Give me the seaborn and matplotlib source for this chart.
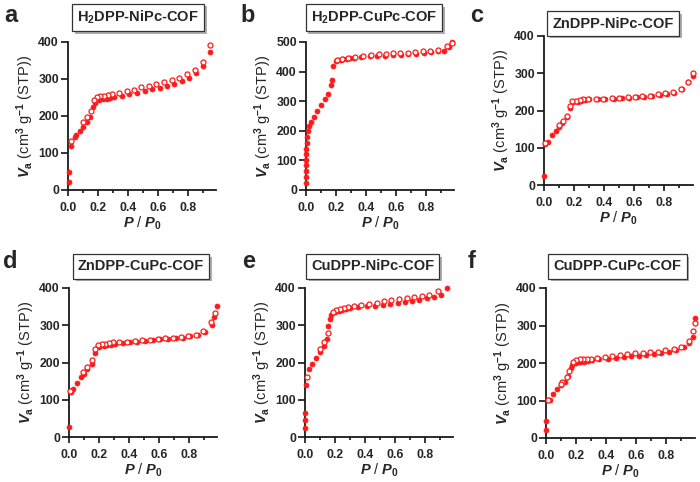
import matplotlib
matplotlib.use("Agg")
import numpy as np
import matplotlib.pyplot as plt
import matplotlib.patheffects as pe
from matplotlib.ticker import MultipleLocator, FormatStrFormatter
import seaborn as sns

# a: H2DPP-NiPc-COF  (adsorption = filled, desorption = open)
a_ads_p = [0.004, 0.004, 0.018, 0.044, 0.056, 0.078, 0.10, 0.129, 0.149, 0.169, 0.178, 0.207, 0.233,
           0.26, 0.282, 0.311, 0.358, 0.411, 0.46, 0.513, 0.562, 0.613, 0.662, 0.711, 0.76, 0.811,
           0.856, 0.90, 0.947]
a_ads_v = [22, 49, 119, 144, 148, 160, 171, 183, 198, 225, 234, 243, 245, 247, 249, 251, 254, 259,
           263, 268, 272, 276, 281, 287, 294, 304, 316, 336, 372]
a_des_p = [0.951, 0.90, 0.851, 0.796, 0.744, 0.693, 0.642, 0.589, 0.542, 0.491, 0.444, 0.393, 0.34,
           0.291, 0.269, 0.24, 0.216, 0.193, 0.176, 0.151, 0.129, 0.10, 0.02]
a_des_v = [393, 346, 325, 313, 303, 296, 291, 287, 282, 279, 271, 268, 263, 259, 257, 255, 253, 251,
           243, 214, 198, 184, 132]

# b: H2DPP-CuPc-COF
b_ads_p = [0.0, 0.0, 0.0, 0.0, 0.0, 0.002, 0.002, 0.004, 0.006, 0.013, 0.022, 0.035, 0.051, 0.073,
           0.10, 0.128, 0.15, 0.168, 0.172, 0.183, 0.20, 0.216, 0.234, 0.25, 0.274, 0.296, 0.318,
           0.366, 0.426, 0.476, 0.53, 0.583, 0.636, 0.684, 0.735, 0.786, 0.834, 0.883, 0.923,
           0.956, 0.978]
b_ads_v = [25, 45, 65, 86, 101, 121, 140, 159, 180, 200, 216, 230, 245, 266, 287, 306, 326, 356,
           373, 420, 435, 438, 440, 442, 444, 445, 447, 449, 452, 453, 454, 455, 457, 458, 461,
           463, 465, 468, 470, 483, 500]
b_des_p = [0.976, 0.945, 0.883, 0.83, 0.78, 0.73, 0.68, 0.63, 0.58, 0.536, 0.485, 0.437, 0.381,
           0.326, 0.282, 0.243, 0.205]
b_des_v = [497, 485, 474, 471, 469, 466, 464, 463, 462, 461, 458, 456, 452, 450, 447, 444, 438]

# c: ZnDPP-NiPc-COF
c_ads_p = [0.0, 0.007, 0.024, 0.051, 0.078, 0.10, 0.122, 0.151, 0.173, 0.195, 0.224, 0.246, 0.27,
           0.30, 0.357, 0.406, 0.463, 0.517, 0.565, 0.619, 0.667, 0.72, 0.772, 0.818, 0.867,
           0.916, 0.956, 0.987]
c_ads_v = [25, 110, 116, 134, 145, 157, 167, 183, 206, 224, 224, 226, 228, 230, 230, 231, 232,
           233, 234, 235, 237, 239, 242, 244, 248, 257, 276, 293]
c_des_p = [0.987, 0.96, 0.911, 0.86, 0.805, 0.756, 0.705, 0.65, 0.605, 0.556, 0.499, 0.45, 0.395,
           0.344, 0.29, 0.262, 0.237, 0.213, 0.188, 0.175, 0.153, 0.124, 0.10, 0.007]
c_des_v = [302, 277, 259, 251, 246, 243, 240, 239, 237, 235, 234, 234, 232, 230, 230, 230, 228,
           226, 225, 212, 186, 172, 161, 112]

# d: ZnDPP-CuPc-COF
d_ads_p = [0.0, 0.011, 0.029, 0.056, 0.078, 0.10, 0.122, 0.151, 0.173, 0.202, 0.233, 0.256, 0.284,
           0.307, 0.358, 0.407, 0.456, 0.511, 0.562, 0.611, 0.662, 0.713, 0.762, 0.811, 0.862,
           0.911, 0.956, 0.973, 0.989]
d_ads_v = [27, 122, 128, 146, 160, 170, 182, 196, 225, 242, 245, 247, 248, 249, 253, 255, 256,
           258, 260, 262, 264, 265, 267, 270, 274, 283, 301, 323, 352]
d_des_p = [0.978, 0.951, 0.896, 0.851, 0.798, 0.747, 0.696, 0.644, 0.593, 0.544, 0.491, 0.44,
           0.391, 0.336, 0.296, 0.269, 0.24, 0.218, 0.196, 0.173, 0.151, 0.122, 0.096, 0.007]
d_des_v = [332, 308, 285, 274, 271, 269, 267, 265, 263, 261, 260, 258, 256, 256, 254, 253, 251,
           251, 248, 236, 206, 187, 175, 124]

# e: CuDPP-NiPc-COF
e_ads_p = [0.0, 0.0, 0.0, 0.007, 0.027, 0.049, 0.073, 0.10, 0.126, 0.146, 0.155, 0.166, 0.177,
           0.20, 0.226, 0.248, 0.277, 0.303, 0.354, 0.416, 0.465, 0.52, 0.571, 0.619, 0.668,
           0.719, 0.765, 0.819, 0.863, 0.907, 0.951]
e_ads_v = [23, 45, 65, 139, 182, 197, 213, 229, 245, 263, 298, 318, 328, 335, 339, 341, 343, 345,
           348, 351, 352, 354, 357, 360, 363, 366, 369, 372, 375, 382, 399]
e_des_p = [0.889, 0.83, 0.781, 0.73, 0.681, 0.63, 0.575, 0.531, 0.48, 0.431, 0.376, 0.327, 0.288,
           0.261, 0.235, 0.21, 0.188, 0.155, 0.126, 0.10, 0.011]
e_des_v = [392, 382, 379, 375, 374, 370, 368, 364, 361, 357, 354, 351, 348, 346, 343, 340, 336,
           279, 254, 236, 160]

# f: CuDPP-CuPc-COF
f_ads_p = [0.0, 0.0, 0.016, 0.027, 0.049, 0.076, 0.10, 0.127, 0.149, 0.167, 0.176, 0.202, 0.227,
           0.253, 0.278, 0.304, 0.353, 0.411, 0.464, 0.516, 0.564, 0.616, 0.664, 0.716, 0.764,
           0.816, 0.867, 0.918, 0.953, 0.976, 0.989]
f_ads_v = [22, 45, 101, 101, 118, 130, 141, 150, 165, 188, 196, 201, 203, 204, 205, 208, 210, 212,
           214, 216, 218, 219, 221, 223, 226, 229, 234, 243, 254, 270, 320]
f_des_p = [0.987, 0.98, 0.953, 0.90, 0.849, 0.793, 0.744, 0.693, 0.642, 0.589, 0.54, 0.491, 0.438,
           0.389, 0.34, 0.296, 0.273, 0.249, 0.224, 0.202, 0.178, 0.156, 0.138, 0.109, 0.098, 0.011]
f_des_v = [308, 286, 259, 243, 237, 234, 230, 229, 228, 226, 225, 222, 220, 217, 214, 212, 212,
           211, 210, 209, 204, 179, 163, 150, 145, 102]

titles = [r"H$_\mathbf{2}$DPP-NiPc-COF", r"H$_\mathbf{2}$DPP-CuPc-COF", "ZnDPP-NiPc-COF",
          "ZnDPP-CuPc-COF", "CuDPP-NiPc-COF", "CuDPP-CuPc-COF"]
letters = ["a", "b", "c", "d", "e", "f"]
ymax = [400, 500, 400, 400, 400, 400]

sns.set_style("ticks")
plt.rcParams["font.family"] = ["Liberation Sans", "DejaVu Sans"]
plt.rcParams["font.weight"] = "bold"
plt.rcParams["mathtext.fontset"] = "custom"
plt.rcParams["mathtext.rm"] = "Liberation Sans:bold"
plt.rcParams["mathtext.bf"] = "Liberation Sans:bold"
plt.rcParams["mathtext.it"] = "Liberation Sans:bold:italic"
plt.rcParams["axes.linewidth"] = 1.3
plt.rcParams["axes.edgecolor"] = "#1a1a1a"

RED = "#ff1a1a"
W, H = 700, 482
fig = plt.figure(figsize=(7, 4.82), dpi=100)

# axes rectangles in pixels: left, top, width, height
rects = [(68, 42, 148, 148), (306, 42, 148, 148), (544, 36, 149, 149),
         (69, 288, 148, 149), (305, 288, 148, 149), (546, 288, 149, 150)]
box_xy = [(138, 17.5), (374, 17.5), (613, 23.5), (141, 266.5), (372.5, 266.5), (617.5, 266.5)]
letter_xy = [(4, 22), (240, 22), (470, 22), (3, 268), (242, 268), (468, 268)]

data = [(a_ads_p, a_ads_v, a_des_p, a_des_v), (b_ads_p, b_ads_v, b_des_p, b_des_v),
        (c_ads_p, c_ads_v, c_des_p, c_des_v), (d_ads_p, d_ads_v, d_des_p, d_des_v),
        (e_ads_p, e_ads_v, e_des_p, e_des_v), (f_ads_p, f_ads_v, f_des_p, f_des_v)]

for i, (ads_p, ads_v, des_p, des_v) in enumerate(data):
    l, t, w, h = rects[i]
    ax = fig.add_axes([l / W, 1 - (t + h) / H, w / W, h / H])
    sns.scatterplot(x=ads_p, y=ads_v, ax=ax, color=RED, edgecolor=RED, s=13,
                    linewidth=0.5, clip_on=False, zorder=3)
    sns.scatterplot(x=des_p, y=des_v, ax=ax, facecolor="white", edgecolor=RED, s=13,
                    linewidth=0.9, clip_on=False, zorder=4)
    ax.set_xlim(0, 0.99)
    ax.set_ylim(0, ymax[i])
    ax.xaxis.set_major_locator(MultipleLocator(0.2))
    ax.xaxis.set_minor_locator(MultipleLocator(0.1))
    ax.xaxis.set_major_formatter(FormatStrFormatter("%.1f"))
    ax.yaxis.set_major_locator(MultipleLocator(100))
    ax.tick_params(axis="x", which="major", length=4.3, width=1.3, labelsize=8.8, pad=4)
    ax.tick_params(axis="x", which="minor", length=2.4, width=1.3)
    ax.tick_params(axis="y", which="major", length=5, width=1.3, labelsize=8.8, pad=1.5)
    sns.despine(ax=ax)
    ax.set_xlabel(r"$\mathit{P}$ / $\mathit{P}_\mathbf{0}$", fontsize=10.5, labelpad=1)
    ax.set_ylabel(r"$\mathit{V}_\mathbf{a}$ (cm$^\mathbf{3}$ g$^\mathbf{-1}$ (STP))",
                  fontsize=10.5, labelpad=2)

    bx, by = box_xy[i]
    txt = fig.text(bx / W, 1 - by / H, titles[i], ha="center", va="center", fontsize=10.5,
                   fontweight="bold",
                   bbox=dict(boxstyle="square,pad=0.35", facecolor="white",
                             edgecolor="#333333", linewidth=0.9))
    txt.get_bbox_patch().set_path_effects(
        [pe.SimplePatchShadow(offset=(2, -2), shadow_rgbFace="0.55", alpha=0.7), pe.Normal()])

    lx, ly = letter_xy[i]
    fig.text(lx / W, 1 - ly / H, letters[i], ha="left", va="baseline", fontsize=17,
             fontweight="bold")

fig.savefig("out.png", dpi=100)
